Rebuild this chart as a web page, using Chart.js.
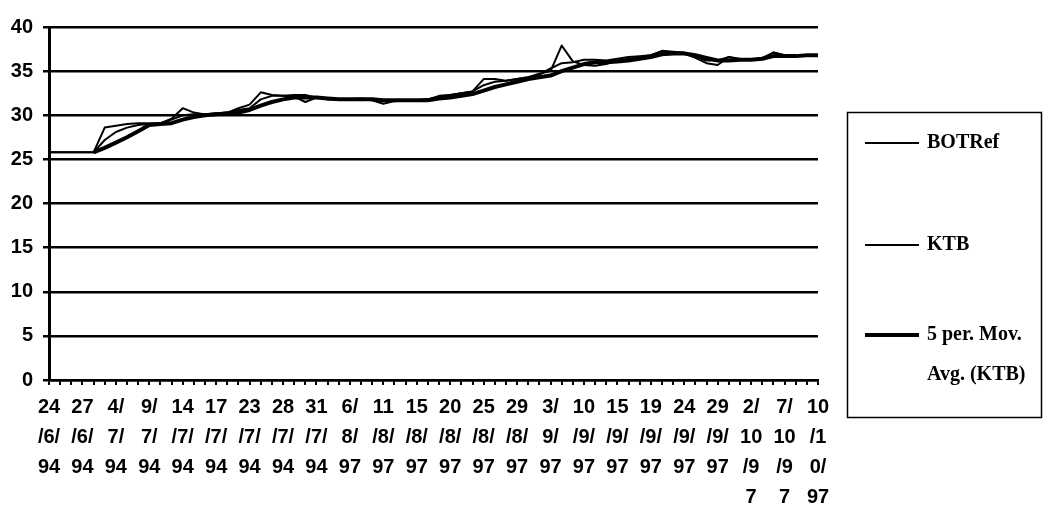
<!DOCTYPE html>
<html>
<head>
<meta charset="utf-8">
<script src="https://cdn.jsdelivr.net/npm/chart.js@4.4.0/dist/chart.umd.min.js"></script>
<style>
  body { margin: 0; background: #fff; }
  #wrap { width: 1045px; height: 506px; position: relative; }
</style>
</head>
<body>
<div id="wrap"><canvas id="chart"></canvas></div>
<script>
// ------------------ Data --------------------

// one label every 3rd point, wrapped the way the scan shows them
var dateLabels = {
  0: ['24', '/6/', '94'],   3: ['27', '/6/', '94'],   6: ['4/', '7/', '94'],
  9: ['9/', '7/', '94'],   12: ['14', '/7/', '94'],  15: ['17', '/7/', '94'],
  18: ['23', '/7/', '94'], 21: ['28', '/7/', '94'],  24: ['31', '/7/', '94'],
  27: ['6/', '8/', '97'],  30: ['11', '/8/', '97'],  33: ['15', '/8/', '97'],
  36: ['20', '/8/', '97'], 39: ['25', '/8/', '97'],  42: ['29', '/8/', '97'],
  45: ['3/', '9/', '97'],  48: ['10', '/9/', '97'],  51: ['15', '/9/', '97'],
  54: ['19', '/9/', '97'], 57: ['24', '/9/', '97'],  60: ['29', '/9/', '97'],
  63: ['2/', '10', '/9', '7'], 66: ['7/', '10', '/9', '7'], 69: ['10', '/1', '0/', '97']
};

var botRef = [
  25.8, 25.8, 25.8, 25.8, 25.8, 27.2, 28.1, 28.6, 28.9, 29.0,
  29.0, 29.5, 30.0, 30.1, 30.1, 30.2, 30.3, 30.6, 30.8, 31.8,
  32.2, 32.2, 32.3, 32.3, 32.0, 31.8, 31.8, 31.8, 31.8, 31.7,
  31.7, 31.7, 31.7, 31.7, 31.8, 32.1, 32.3, 32.5, 32.7, 33.4,
  33.8, 33.9, 34.1, 34.3, 34.6, 35.3, 35.9, 36.0, 36.3, 36.3,
  36.2, 36.4, 36.6, 36.7, 36.8, 37.3, 37.2, 37.1, 36.6, 36.2,
  36.2, 36.6, 36.4, 36.3, 36.5, 37.1, 36.8, 36.7, 36.8, 36.8
];

var ktb = [
  25.8, 25.8, 25.8, 25.8, 25.8, 28.6, 28.8, 29.0, 29.1, 29.1,
  29.1, 29.6, 30.8, 30.3, 30.1, 30.2, 30.3, 30.8, 31.2, 32.6,
  32.3, 32.2, 32.1, 31.5, 32.0, 31.8, 31.8, 31.8, 31.9, 31.7,
  31.3, 31.6, 31.7, 31.7, 31.8, 32.2, 32.3, 32.5, 32.7, 34.1,
  34.1, 33.9, 34.1, 34.3, 34.7, 35.0, 37.9, 36.1, 35.7, 35.6,
  35.8, 36.2, 36.4, 36.6, 36.8, 37.2, 37.1, 37.0, 36.5, 35.9,
  35.7, 36.6, 36.3, 36.3, 36.4, 37.1, 36.8, 36.7, 36.8, 36.8
];

var movAvg = [
  null, null, null, null, 25.8, 26.3, 26.9, 27.5, 28.2, 28.9,
  29.0, 29.1, 29.5, 29.8, 30.0, 30.1, 30.2, 30.3, 30.6, 31.1,
  31.5, 31.8, 32.0, 32.0, 32.0, 31.9, 31.8, 31.8, 31.8, 31.8,
  31.7, 31.7, 31.7, 31.7, 31.7, 31.9, 32.0, 32.2, 32.4, 32.8,
  33.2, 33.5, 33.8, 34.1, 34.3, 34.5, 35.0, 35.4, 35.8, 36.0,
  36.0, 36.1, 36.2, 36.4, 36.6, 36.9, 37.0, 37.0, 36.8, 36.5,
  36.2, 36.2, 36.3, 36.3, 36.4, 36.7, 36.7, 36.7, 36.8, 36.8
];

var yMin = 0, yMax = 40, yStep = 5;

var legendLines = [['BOTRef'], ['KTB'], ['5 per. Mov.', 'Avg. (KTB)']];

var labels = [];
for (var i = 0; i < botRef.length; i++) labels.push(dateLabels[i] || '');

// ----- boxed legend on the right, like the scan ------

var boxLegend = {
  id: 'boxLegend',
  afterDraw: function(chart) {
    var c = chart.ctx;
    c.save();
    c.strokeStyle = '#000';
    c.lineWidth = 1.5;
    c.strokeRect(847.5, 112.5, 194, 305);
    var rows = [143, 245, 335];
    c.font = 'bold 20px "Liberation Serif", "Times New Roman", serif';
    c.fillStyle = '#000';
    c.textBaseline = 'middle';
    chart.data.datasets.forEach(function(ds, k) {
      c.lineWidth = ds.borderWidth;
      c.beginPath();
      c.moveTo(865, rows[k]);
      c.lineTo(919, rows[k]);
      c.stroke();
      legendLines[k].forEach(function(t, j) {
        c.fillText(t, 927, rows[k] + j * 40);
      });
    });
    c.restore();
  }
};

var tickFont = { family: '"Liberation Sans", Arial, sans-serif', size: 20, weight: 'bold', lineHeight: 1.5 };

var ctx = document.getElementById('chart').getContext('2d');
var chart = new Chart(ctx, {
  type: 'line',
  data: {
    labels: labels,
    datasets: [
      { label: 'BOTRef', data: botRef, borderColor: '#000', borderWidth: 2 },
      { label: 'KTB', data: ktb, borderColor: '#000', borderWidth: 2 },
      { label: '5 per. Mov. Avg. (KTB)', data: movAvg, borderColor: '#000', borderWidth: 4 }
    ]
  },
  options: {
    responsive: true,
    maintainAspectRatio: false,
    animation: false,
    layout: { padding: { top: 27, right: 227, left: 0, bottom: 0 } },
    elements: {
      point: { radius: 0 },
      line: { tension: 0, borderJoinStyle: 'round' }
    },
    plugins: {
      legend: { display: false },
      tooltip: { enabled: false }
    },
    scales: {
      x: {
        offset: false,
        grid: { display: true, drawOnChartArea: false, drawTicks: true, tickLength: 5, color: '#000', lineWidth: 2 },
        border: { display: true, color: '#000', width: 2.5 },
        ticks: { autoSkip: false, maxRotation: 0, minRotation: 0, padding: 7, color: '#000', font: tickFont },
        afterFit: function(s) { s.height = 126; }
      },
      y: {
        min: yMin,
        max: yMax,
        grid: { color: '#000', lineWidth: 2.5, tickLength: 6 },
        border: { display: true, color: '#000', width: 3 },
        ticks: { stepSize: yStep, padding: 10, color: '#000', font: tickFont },
        afterFit: function(s) { s.width = 49; }
      }
    }
  },
  plugins: [boxLegend]
});
</script>
</body>
</html>
